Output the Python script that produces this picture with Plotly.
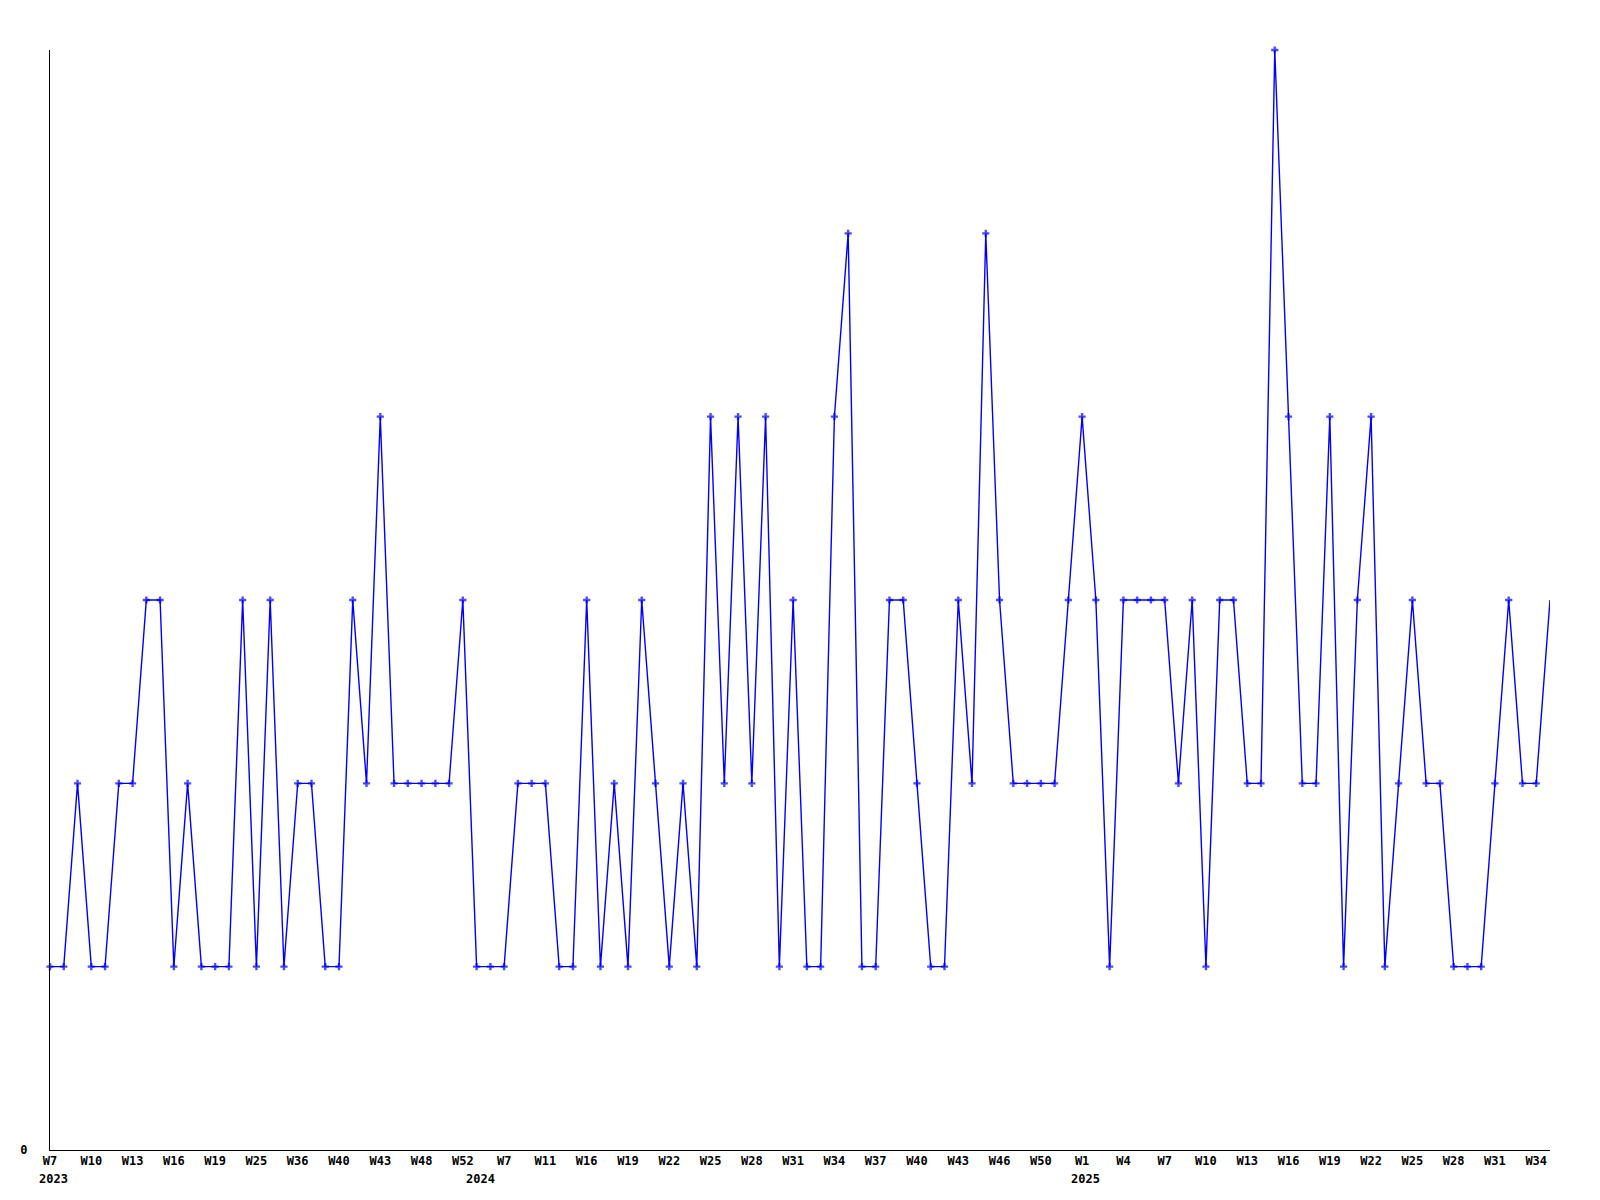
import plotly.graph_objects as go

# ---- data ----
weeks_2023 = [7, 8, 9, 10, 11, 12, 13, 14, 15, 16, 17, 18, 19, 21, 23, 25, 28, 32, 36,
              37, 38, 40, 41, 42, 43, 45, 47, 48, 49, 51, 52]
weeks_2024 = [2, 5, 7, 8, 10, 11, 13, 14, 16, 17, 18, 19, 20, 21, 22, 23, 24, 25, 26,
              27, 28, 29, 30, 31, 32, 33, 34, 35, 36, 37, 38, 39, 40, 41, 42, 43, 44,
              45, 46, 47, 49, 50, 51, 52]
weeks_2025 = [1, 2, 3, 4, 5, 6, 7, 8, 9, 10, 11, 12, 13, 14, 15, 16, 17, 18, 19, 20,
              21, 22, 23, 24, 25, 26, 27, 28, 29, 30, 31, 32, 33, 34, 35]

values = [1, 1, 2, 1, 1, 2, 2, 3, 3, 1, 2, 1, 1, 1, 3, 1, 3, 1, 2, 2,
          1, 1, 3, 2, 4, 2, 2, 2, 2, 2, 3, 1, 1, 1, 2, 2, 2, 1, 1, 3,
          1, 2, 1, 3, 2, 1, 2, 1, 4, 2, 4, 2, 4, 1, 3, 1, 1, 4, 5, 1,
          1, 3, 3, 2, 1, 1, 3, 2, 5, 3, 2, 2, 2, 2, 3, 4, 3, 1, 3, 3,
          3, 3, 2, 3, 1, 3, 3, 2, 2, 6, 4, 2, 2, 4, 1, 3, 4, 1, 2, 3,
          2, 2, 1, 1, 1, 2, 3, 2, 2, 3]

y_ticks = [0]
y_tick_labels = ["0"]

# ---- build categories ----
years_weeks = ([(2023, w) for w in weeks_2023] + [(2024, w) for w in weeks_2024]
               + [(2025, w) for w in weeks_2025])
categories = [f"{y}-W{w:02d}" for y, w in years_weeks]

tick_vals = categories[::3]
tick_text = [f"W{w}" for _, w in years_weeks[::3]]

year_starts = []
seen = set()
for cat, (y, w) in zip(categories, years_weeks):
    if y not in seen:
        seen.add(y)
        year_starts.append((cat, str(y)))

marker_sizes = [6] * (len(values) - 1) + [0]

font_family = "DejaVu Sans Mono"

fig = go.Figure()
fig.add_trace(go.Scatter(
    x=categories, y=values, mode="lines+markers",
    line=dict(color="#0000ff", width=1.4),
    marker=dict(symbol="cross", size=marker_sizes, color="#0000ff", line=dict(width=0)),
    cliponaxis=False,
    showlegend=False,
))

annotations = []
for cat, label in year_starts:
    annotations.append(dict(
        x=cat, xref="x", y=0, yref="paper", yanchor="top", xanchor="left",
        xshift=-13, yshift=-20, text=f"<b>{label}</b>", showarrow=False,
        font=dict(family=font_family, size=12, color="black"),
    ))

fig.update_layout(
    width=1600, height=1200,
    margin=dict(l=42, r=58, t=42, b=58),
    paper_bgcolor="white", plot_bgcolor="white",
    font=dict(family=font_family, size=12, color="black", weight="bold"),
    annotations=annotations,
    xaxis=dict(
        type="category", categoryorder="array", categoryarray=categories,
        range=[0, len(categories) - 1],
        tickmode="array", tickvals=tick_vals, ticktext=tick_text,
        showgrid=False, zeroline=False, showline=True, linecolor="black", linewidth=1,
        ticks="", tickangle=0,
        tickfont=dict(family=font_family, size=12, color="black", weight="bold"),
    ),
    yaxis=dict(
        range=[0, 6], tickmode="array", tickvals=y_ticks, ticktext=y_tick_labels,
        showgrid=False, zeroline=False, showline=True, linecolor="black", linewidth=1,
        ticks="", ticklabelstandoff=19,
        tickfont=dict(family=font_family, size=12, color="black", weight="bold"),
    ),
)

fig.write_html("out.html")
